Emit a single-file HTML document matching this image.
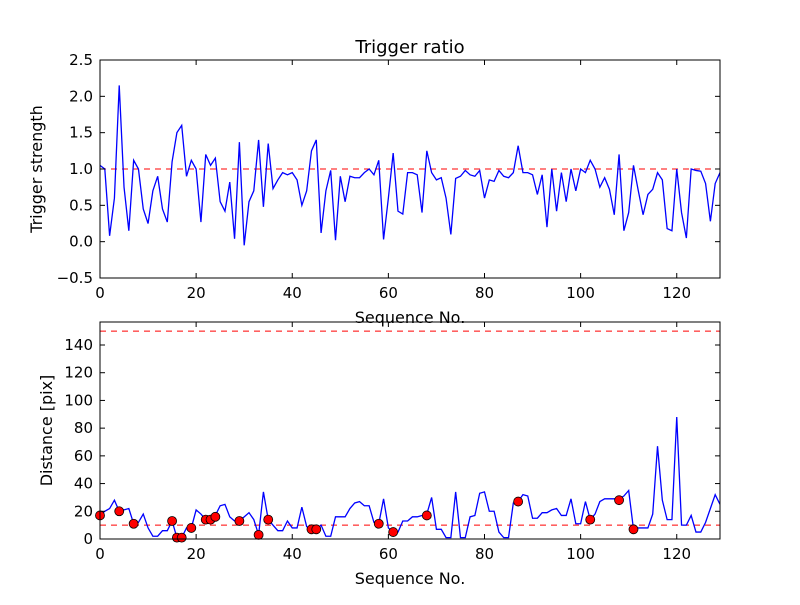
<!DOCTYPE html>
<html><head><meta charset="utf-8"><style>
body{margin:0;background:#fff}
svg text{font-family:"DejaVu Sans","Liberation Sans",sans-serif;fill:#000}
</style></head><body>
<svg id="chart" width="800" height="600" xmlns="http://www.w3.org/2000/svg"></svg>
<script>
const seqIdx=[...Array(130).keys()];
const triggerStrength=[1.05,1.0,0.08,0.6,2.15,0.75,0.15,1.12,1.0,0.45,0.25,0.7,0.9,0.45,0.27,1.1,1.5,1.6,0.9,1.12,1.0,0.27,1.2,1.05,1.15,0.55,0.42,0.82,0.04,1.37,-0.05,0.55,0.7,1.4,0.48,1.35,0.73,0.85,0.95,0.92,0.95,0.85,0.5,0.7,1.25,1.4,0.12,0.7,0.98,0.02,0.9,0.55,0.9,0.88,0.88,0.95,1.0,0.92,1.12,0.03,0.6,1.22,0.42,0.38,0.95,0.95,0.92,0.4,1.25,0.95,0.85,0.88,0.6,0.1,0.87,0.9,0.98,0.92,0.9,0.98,0.6,0.85,0.83,0.98,0.9,0.88,0.95,1.32,0.95,0.95,0.92,0.65,0.92,0.2,1.0,0.42,0.95,0.55,1.0,0.7,1.0,0.95,1.12,1.0,0.75,0.88,0.72,0.37,1.2,0.15,0.4,1.05,0.7,0.37,0.65,0.72,0.95,0.85,0.18,0.15,1.0,0.4,0.05,1.0,0.98,0.97,0.8,0.28,0.8,0.95];
const distance=[17,20,22,28,20,21,22,11,12,18,8,2,2,6,6,13,1,1,8,8,21,18,14,14,17,24,25,16,13,13,16,19,14,3,34,14,10,6,6,13,8,8,23,9,7,7,10,2,2,16,16,16,22,26,27,24,24,12,11,29,8,5,5,13,13,16,16,17,18,30,7,7,1,1,34,1,1,16,17,33,34,20,20,5,1,1,26,27,32,31,15,15,19,19,21,22,17,17,29,11,11,27,14,18,27,29,29,29,29,31,35,7,8,8,8,18,67,28,14,14,88,10,10,17,5,5,12,22,32,25];
const markerIdx=[0,4,7,15,16,17,19,22,23,24,29,33,35,44,45,58,61,68,87,102,108,111];
const markerVal=[17,20,11,13,1,1,8,14,14,16,13,3,14,7,7,11,5,17,27,14,28,7];
const xTicks=[0,20,40,60,80,100,120];
const topTicks=[-0.5,0,0.5,1,1.5,2,2.5];
const topTickLabels=["\u22120.5","0.0","0.5","1.0","1.5","2.0","2.5"];
const botTicks=[0,20,40,60,80,100,120,140];
const topRef=[1.0];
const botRef=[10,150];

const NS="http://www.w3.org/2000/svg";
const svg=document.getElementById('chart');
function mk(tag,attrs,parent){const e=document.createElementNS(NS,tag);for(const k in attrs)e.setAttribute(k,attrs[k]);(parent||svg).appendChild(e);return e;}
const L=100,R=720;
const sx=v=>L+(v-0)/(129-0)*(R-L);
function axes(top,bot,ymin,ymax,name){
  const sy=v=>bot-(v-ymin)/(ymax-ymin)*(bot-top);
  const g=mk('g',{});
  
  
  return {g,sy,top,bot};
}
function frame(a,yt,ylabels,xlabelName,ylabelText,ylabelName){
  const g=a.g;
  xTicks.forEach((t,i)=>{
    const x=sx(t);
    mk('line',{x1:x,x2:x,y1:a.bot,y2:a.bot-5,stroke:'#000'},g);
    mk('line',{x1:x,x2:x,y1:a.top,y2:a.top+5,stroke:'#000'},g);
    const tx=mk('text',{x:x,y:a.bot+20,'text-anchor':'middle','font-size':15},g);
    tx.textContent=t;
    
    
  });
  yt.forEach((t,i)=>{
    const y=a.sy(t);
    mk('line',{x1:L,x2:L+5,y1:y,y2:y,stroke:'#000'},g);
    mk('line',{x1:R,x2:R-5,y1:y,y2:y,stroke:'#000'},g);
    const tx=mk('text',{x:L-7,y:y+5,'text-anchor':'end','font-size':15},g);
    tx.textContent=ylabels[i];
    
    
  });
  const r=mk('rect',{x:L,y:a.top,width:R-L,height:a.bot-a.top,fill:'none',stroke:'#000','stroke-width':1},g);
  
  
  const xl=mk('text',{x:(L+R)/2,y:a.bot+45,'text-anchor':'middle','font-size':16},g);
  xl.textContent='Sequence No.';
  
  
  const cy=(a.top+a.bot)/2;
  const yl=mk('text',{x:0,y:0,'text-anchor':'middle','font-size':16,transform:`translate(${ylabelText==='Trigger strength'?42:52},${cy}) rotate(-90)`},g);
  yl.textContent=ylabelText;
  
  
}
// top
const A=axes(60,278,-0.5,2.5,'trigger-plot');
topRef.forEach(v=>{const l=mk('line',{x1:L,x2:R,y1:A.sy(v),y2:A.sy(v),stroke:'#f00','stroke-dasharray':'6,5','stroke-width':1},A.g);});
const p1=mk('polyline',{points:seqIdx.map((x,i)=>sx(x)+','+A.sy(triggerStrength[i])).join(' '),fill:'none',stroke:'#00f','stroke-width':1.3},A.g);


frame(A,topTicks,topTickLabels,'top-x-axis-title','Trigger strength','top-y-axis-title');
const title=mk('text',{x:410,y:53,'text-anchor':'middle','font-size':18},A.g);
title.textContent='Trigger ratio';


// bottom
const B=axes(322,539,0,156.6,'distance-plot');
botRef.forEach(v=>{const l=mk('line',{x1:L,x2:R,y1:B.sy(v),y2:B.sy(v),stroke:'#f00','stroke-dasharray':'6,5','stroke-width':1},B.g);});
const p2=mk('polyline',{points:seqIdx.map((x,i)=>sx(x)+','+B.sy(distance[i])).join(' '),fill:'none',stroke:'#00f','stroke-width':1.3},B.g);


markerIdx.forEach((x,i)=>{
  const c=mk('circle',{cx:sx(x),cy:B.sy(markerVal[i]),r:4.5,fill:'#f00',stroke:'#000','stroke-width':0.8},B.g);
  
  
});
frame(B,botTicks,botTicks.map(String),'bottom-x-axis-title','Distance [pix]','bottom-y-axis-title');
</script>
</body></html>
